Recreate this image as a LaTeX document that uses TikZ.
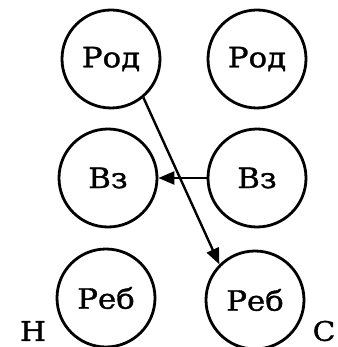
\documentclass[tikz,border=0pt]{standalone}
\usepackage{fontspec}
\newfontfamily\lbl[FakeStretch=1.1,FakeBold=1.2]{DejaVu Serif}
\usetikzlibrary{arrows.meta}
\begin{document}
\begin{tikzpicture}[x=1pt,y=-1pt,
  circ/.style={circle,draw,line width=2.8pt,minimum size=98pt,inner sep=0pt,font=\lbl\fontsize{28}{28}\selectfont},
  conn/.style={line width=2.4pt,-{Triangle[length=16pt,width=13pt]}},
  side/.style={font=\lbl\fontsize{27}{27}\selectfont,inner sep=0pt}]
\useasboundingbox (0,0) rectangle (337,347);
\node[circ] (rodN) at (111,59) {Род};
\node[circ] (rodC) at (257,59) {Род};
\node[circ] (vzN) at (108,178) {Вз};
\node[circ] (vzC) at (257,178) {Вз};
\node[circ] (rebN) at (106,298) {Реб};
\node[circ] (rebC) at (255,300) {Реб};
\node[side] (H) at (33,331) {Н};
\node[side] (C) at (324,331) {С};
\draw[conn] (rodN.-50) -- (rebC.135);
\draw[conn] (vzC.west) -- (vzN.east);
\end{tikzpicture}
\end{document}
